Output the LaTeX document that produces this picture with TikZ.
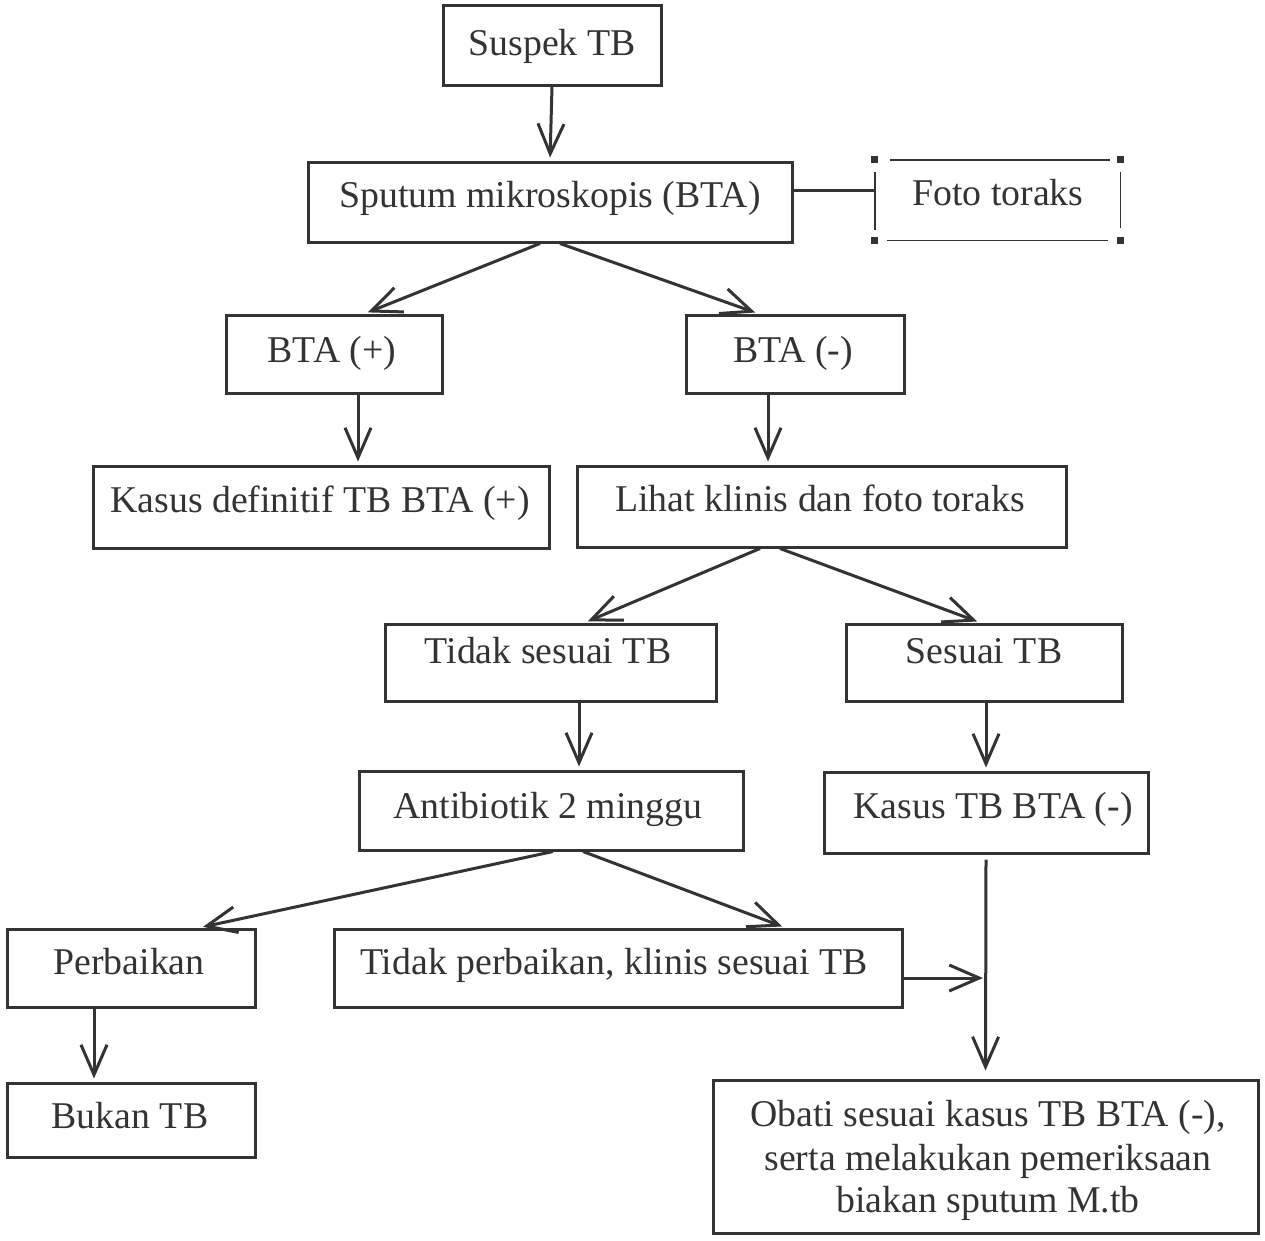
\documentclass[tikz,border=0pt]{standalone}
\usepackage{fontspec}
\setmainfont{Liberation Serif}
\usetikzlibrary{arrows.meta}
\definecolor{ink}{HTML}{333333}
\begin{document}
\begin{tikzpicture}[x=1pt,y=-1pt,
  box/.style={draw=ink,line width=3pt,inner sep=0pt},
  lbl/.style={text=ink,font=\fontsize{37.8}{43}\selectfont,inner sep=0pt,anchor=base},
  link/.style={draw=ink,line width=3pt},
  arr/.style={draw=ink,line width=3pt,shorten >=3pt,-{Straight Barb[length=30pt,width=26pt,line width=3pt]}},
  thin/.style={draw=ink,line width=1.4pt}]
\useasboundingbox (0,0) rectangle (1265,1240);
% boxes
\node[box,minimum width=218pt,minimum height=80pt] (suspek) at (552,45) {};
\node[box,minimum width=484pt,minimum height=80pt] (sputum) at (550,202) {};
\node[inner sep=0pt,minimum width=245pt,minimum height=80pt] (foto) at (997.5,200) {};
\node[box,minimum width=216pt,minimum height=78pt] (btap) at (334,354) {};
\node[box,minimum width=218pt,minimum height=78pt] (btam) at (795,354) {};
\node[box,minimum width=456pt,minimum height=82pt] (kasusdef) at (321,507) {};
\node[box,minimum width=489pt,minimum height=81pt] (lihat) at (821.5,506.5) {};
\node[box,minimum width=331pt,minimum height=77pt] (tidak) at (550.5,662.5) {};
\node[box,minimum width=276pt,minimum height=77pt] (sesuai) at (984,662.5) {};
\node[box,minimum width=384pt,minimum height=79pt] (anti) at (551,810.5) {};
\node[box,minimum width=324pt,minimum height=81pt] (kasustb) at (986,812.5) {};
\node[box,minimum width=248pt,minimum height=78pt] (perb) at (131,968) {};
\node[box,minimum width=568pt,minimum height=78pt] (tidakp) at (618,968) {};
\node[box,minimum width=248pt,minimum height=74pt] (bukan) at (131,1120) {};
\node[box,minimum width=545pt,minimum height=153pt] (obati) at (985.5,1156.5) {};
% foto toraks frame
\draw[thin] ([xshift=15pt]foto.north west) -- ([xshift=-10pt]foto.north east);
\draw[thin] ([xshift=12pt]foto.south west) -- ([xshift=-12pt]foto.south east);
\draw[thin] ([yshift=-12pt]foto.north west) -- ([yshift=10pt]foto.south west);
\draw[thin] ([yshift=-12pt]foto.north east) -- ([yshift=12pt]foto.south east);
\foreach \c in {north west,north east,south west,south east}
  \fill[ink] (foto.\c) ++(-3.5,-3.5) rectangle ++(7,7);
% texts
\node[lbl] (t1) at (552,55) {Suspek TB};
\node[lbl] (t2) at (550,207) {Sputum mikroskopis (BTA)};
\node[lbl] (t3) at (998,205) {Foto toraks};
\node[lbl] (t4) at (332,362) {BTA (+)};
\node[lbl] (t5) at (793,362) {BTA (-)};
\node[lbl] (t6) at (320,512) {Kasus definitif TB BTA (+)};
\node[lbl] (t7) at (820,511) {Lihat klinis dan foto toraks};
\node[lbl] (t8) at (548,663) {Tidak sesuai TB};
\node[lbl] (t9) at (984,663) {Sesuai TB};
\node[lbl] (t10) at (548,818) {Antibiotik 2 minggu};
\node[lbl] (t11) at (993,818) {Kasus TB BTA (-)};
\node[lbl] (t12) at (129,974) {Perbaikan};
\node[lbl] (t13) at (614,974) {Tidak perbaikan, klinis sesuai TB};
\node[lbl] (t14) at (130,1128) {Bukan TB};
\node[lbl] (t15) at (988,1126) {Obati sesuai kasus TB BTA (-),};
\node[lbl] (t16) at (988,1170) {serta melakukan pemeriksaan};
\node[lbl] (t17) at (988,1212) {biakan sputum M.tb};
% connectors
\draw[arr] (suspek.south) -- (sputum.north);
\draw[link] ([yshift=12pt]sputum.east) -- ([yshift=10pt]foto.west);
\draw[arr] ([xshift=-10pt]sputum.south) -- ([xshift=31pt]btap.north);
\draw[arr] ([xshift=10pt]sputum.south) -- ([xshift=-37pt]btam.north);
\draw[arr] ([xshift=24pt]btap.south) -- ([xshift=24pt]btap.south |- kasusdef.north);
\draw[arr] ([xshift=-27pt]btam.south) -- ([xshift=-27pt]btam.south |- lihat.north);
\draw[arr] ([xshift=-61.5pt]lihat.south) -- ([xshift=34.5pt]tidak.north);
\draw[arr] ([xshift=-41.5pt]lihat.south) -- ([xshift=-4pt]sesuai.north);
\draw[arr] ([xshift=28.5pt]tidak.south) -- ([xshift=28.5pt]tidak.south |- anti.north);
\draw[arr] ([xshift=2pt]sesuai.south) -- ([xshift=2pt]sesuai.south |- kasustb.north);
\draw[arr] ([xshift=2pt]anti.south) -- ([xshift=69pt]perb.north);
\draw[arr] ([xshift=32pt]anti.south) -- ([xshift=167pt]tidakp.north);
\draw[arr] ([xshift=-37pt]perb.south) -- ([xshift=-37pt]perb.south |- bukan.north);
\coordinate (join) at (kasustb.south |- tidakp.east);
\draw[arr] ([yshift=-5pt]kasustb.south) -- ([yshift=5pt]obati.north);
\draw[arr] ([yshift=-10pt]tidakp.east) -- ([yshift=-10pt]join);
\end{tikzpicture}
\end{document}
